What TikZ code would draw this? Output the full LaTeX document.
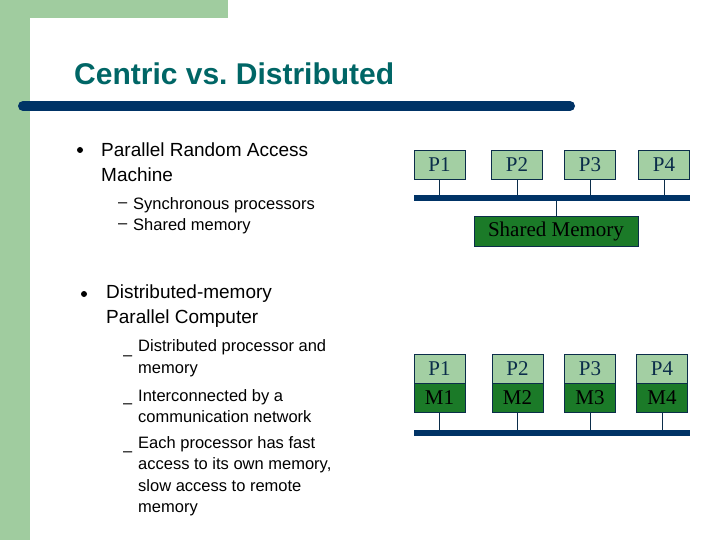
\documentclass[tikz,border=0pt]{standalone}
\usepackage{fontspec}
\setmainfont{Liberation Sans}
\newfontfamily\boxfont{Liberation Serif}
\usetikzlibrary{positioning}
\definecolor{bandgreen}{HTML}{A0CC9F}
\definecolor{procgreen}{HTML}{A3CFA3}
\definecolor{memgreen}{HTML}{1B7A28}
\definecolor{navy}{HTML}{003366}
\definecolor{titleteal}{HTML}{006666}
\definecolor{boxtext}{HTML}{0B2D4A}
\tikzset{
  proc/.style={draw=boxtext,fill=procgreen,minimum width=51pt,minimum height=29pt,inner sep=0pt,font=\boxfont\fontsize{21}{21}\selectfont,text=boxtext},
  mem/.style={proc,fill=memgreen,text=black},
  bus/.style={fill=navy,draw=none,minimum height=6pt,inner sep=0pt},
  txt/.style={anchor=west,align=left,font=\fontsize{19}{25}\selectfont,inner sep=0pt},
  sub/.style={anchor=west,align=left,font=\fontsize{16.5}{21}\selectfont,inner sep=0pt},
  dot/.style={circle,fill=black,inner sep=0pt,minimum size=6pt}
}
\begin{document}
\begin{tikzpicture}[x=1pt,y=-1pt]
  \useasboundingbox (0,0) rectangle (720,540);
  % background bands
  \fill[bandgreen] (0,0) rectangle (228,18);
  \fill[bandgreen] (0,0) rectangle (30,540);
  \fill[white] (30,540) -- (30,40) arc[start angle=180,end angle=90,radius=22] -- (228,18) -- (228,0) -- (720,0) -- (720,540) -- cycle;
  % title
  \node[anchor=base west,inner sep=0pt,text=titleteal,font=\bfseries\fontsize{30}{30}\selectfont] (title) at (74,85) {Centric vs.\ Distributed};
  \draw[navy,line width=10pt,line cap=round] (23,106) -- (570,106);
  % text on the left
  \node[dot] (b1) at (80,150) {};
  \node[txt] (t1) at (101,162) {Parallel Random Access\\Machine};
  \node[sub] (d1) at (118,216) {--\\--};
  \node[sub] (s1) at (133,216) {Synchronous processors\\Shared memory};
  \node[dot] (b2) at (84,294) {};
  \node[txt] (t2) at (106,306) {Distributed-memory\\Parallel Computer};
  \node[sub,font=\fontsize{16.5}{21.5}\selectfont] (d2) at (123,358) {--};
  \node[sub,font=\fontsize{16.5}{21.5}\selectfont] (s2) at (138,358) {Distributed processor and\\memory};
  \node[sub] (d3) at (123,406) {--};
  \node[sub,font=\fontsize{16.5}{21.5}\selectfont] (s3) at (138,406) {Interconnected by a\\communication network};
  \node[sub] (d4) at (123,454) {--};
  \node[sub,font=\fontsize{16.5}{21.5}\selectfont] (s4) at (138,476) {Each processor has fast\\access to its own memory,\\slow access to remote\\memory};
  % shared memory machine
  \node[proc] (p1) at (439.5,165) {P1};
  \node[proc] (p2) at (517,165) {P2};
  \node[proc] (p3) at (590,165) {P3};
  \node[proc] (p4) at (664,165) {P4};
  \node[bus,minimum width=276pt] (bus1) at (552,198) {};
  \node[mem,minimum width=164pt,minimum height=30pt] (sm) at (556,231) {Shared Memory};
  \foreach \p in {p1,p2,p3,p4}
    \draw[boxtext] (\p.south) -- (\p.south |- bus1.north);
  \draw[boxtext] (sm.north) -- (sm.north |- bus1.south);
  % distributed memory machine
  \foreach \i/\x in {1/439.5,2/517.5,3/590,4/662} {
    \node[proc] (q\i) at (\x,368.5) {P\i};
    \node[mem,below=0pt of q\i] (m\i) {M\i};
  }
  \node[bus,minimum width=276pt] (bus2) at (552,433) {};
  \foreach \i in {1,...,4}
    \draw[boxtext] (m\i.south) -- (m\i.south |- bus2.north);
\end{tikzpicture}
\end{document}
